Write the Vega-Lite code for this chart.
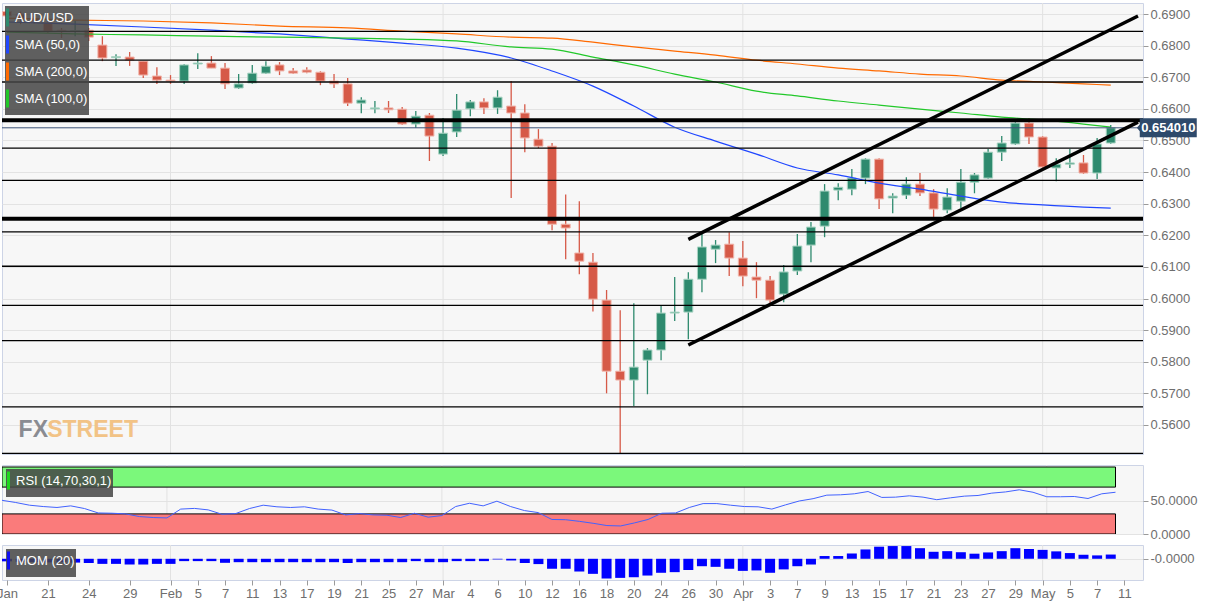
{
  "$schema": "https://vega.github.io/schema/vega-lite/v6.json",
  "padding": {"left": -4, "top": 2, "right": 0, "bottom": 0},
  "background": "white",
  "spacing": 11,
  "bounds": "flush",
  "config": {
    "font": "Liberation Sans",
    "view": {"fill": "#f7f7f7", "stroke": "#cdd4e6"},
    "axis": {"labelFont": "Liberation Sans", "labelColor": "#6e6e6e", "labelFontSize": 13, "tickColor": "#9a9a9a", "gridColor": "#e3e3e3", "domain": false, "labelOverlap": false},
    "legend": {"orient": "top-left", "offset": 4, "direction": "vertical", "fillColor": "rgba(70,70,70,0.86)", "padding": 1, "labelColor": "#ffffff", "labelFont": "Liberation Sans", "labelFontSize": 13, "symbolType": "M-1,-1L-1,1", "symbolSize": 324, "symbolStrokeWidth": 3, "symbolOpacity": 1, "rowPadding": -4, "labelOffset": -12}
  },
  "resolve": {"scale": {"color": "independent", "x": "independent", "y": "independent"}, "legend": {"color": "independent"}},
  "datasets": {
    "candles": [
      {"i":0,"d":"2020-01-16","o":0.6908,"h":0.6915,"l":0.6888,"c":0.6894,"rsi":50.3,"mom":-0.012},
      {"i":1,"d":"2020-01-17","o":0.6900,"h":0.6908,"l":0.6868,"c":0.6884,"rsi":47,"mom":-0.014},
      {"i":2,"d":"2020-01-20","o":0.6887,"h":0.6893,"l":0.6870,"c":0.6878,"rsi":43,"mom":-0.015},
      {"i":3,"d":"2020-01-21","o":0.6872,"h":0.6880,"l":0.6840,"c":0.6846,"rsi":41,"mom":-0.017},
      {"i":4,"d":"2020-01-22","o":0.6849,"h":0.6856,"l":0.6824,"c":0.6846,"rsi":39.6,"mom":-0.016},
      {"i":5,"d":"2020-01-23","o":0.6845,"h":0.6878,"l":0.6830,"c":0.6848,"rsi":42,"mom":-0.018},
      {"i":6,"d":"2020-01-24","o":0.6849,"h":0.6856,"l":0.6815,"c":0.6827,"rsi":38,"mom":-0.020},
      {"i":7,"d":"2020-01-27","o":0.6802,"h":0.6830,"l":0.6751,"c":0.6761,"rsi":31.4,"mom":-0.024},
      {"i":8,"d":"2020-01-28","o":0.6762,"h":0.6773,"l":0.6736,"c":0.6765,"rsi":31,"mom":-0.024},
      {"i":9,"d":"2020-01-29","o":0.6764,"h":0.6780,"l":0.6736,"c":0.6754,"rsi":30,"mom":-0.027},
      {"i":10,"d":"2020-01-30","o":0.6751,"h":0.6751,"l":0.6698,"c":0.6707,"rsi":26,"mom":-0.027},
      {"i":11,"d":"2020-01-31","o":0.6704,"h":0.6732,"l":0.6679,"c":0.6691,"rsi":24.6,"mom":-0.024},
      {"i":12,"d":"2020-02-03","o":0.6691,"h":0.6707,"l":0.6679,"c":0.6688,"rsi":24,"mom":-0.024},
      {"i":13,"d":"2020-02-04","o":0.6688,"h":0.6742,"l":0.6679,"c":0.6739,"rsi":37.2,"mom":-0.011},
      {"i":14,"d":"2020-02-05","o":0.6742,"h":0.6776,"l":0.6726,"c":0.6745,"rsi":38.2,"mom":-0.011},
      {"i":15,"d":"2020-02-06","o":0.6745,"h":0.6767,"l":0.6729,"c":0.6729,"rsi":36,"mom":-0.011},
      {"i":16,"d":"2020-02-07","o":0.6729,"h":0.6745,"l":0.6663,"c":0.6679,"rsi":29.5,"mom":-0.019},
      {"i":17,"d":"2020-02-10","o":0.6666,"h":0.6710,"l":0.6663,"c":0.6679,"rsi":30.5,"mom":-0.016},
      {"i":18,"d":"2020-02-11","o":0.6682,"h":0.6739,"l":0.6679,"c":0.6713,"rsi":38,"mom":-0.016},
      {"i":19,"d":"2020-02-12","o":0.6713,"h":0.6751,"l":0.6710,"c":0.6735,"rsi":43,"mom":-0.016},
      {"i":20,"d":"2020-02-13","o":0.6739,"h":0.6748,"l":0.6707,"c":0.6720,"rsi":40.6,"mom":-0.016},
      {"i":21,"d":"2020-02-14","o":0.6720,"h":0.6729,"l":0.6710,"c":0.6713,"rsi":39.6,"mom":-0.016},
      {"i":22,"d":"2020-02-17","o":0.6723,"h":0.6732,"l":0.6713,"c":0.6716,"rsi":40.6,"mom":-0.016},
      {"i":23,"d":"2020-02-18","o":0.6716,"h":0.6719,"l":0.6675,"c":0.6688,"rsi":37.2,"mom":-0.016},
      {"i":24,"d":"2020-02-19","o":0.6688,"h":0.6710,"l":0.6666,"c":0.6679,"rsi":35.7,"mom":-0.016},
      {"i":25,"d":"2020-02-20","o":0.6679,"h":0.6698,"l":0.6609,"c":0.6618,"rsi":28.5,"mom":-0.020},
      {"i":26,"d":"2020-02-21","o":0.6618,"h":0.6637,"l":0.6586,"c":0.6628,"rsi":30.5,"mom":-0.016},
      {"i":27,"d":"2020-02-24","o":0.6600,"h":0.6625,"l":0.6586,"c":0.6603,"rsi":28.5,"mom":-0.016},
      {"i":28,"d":"2020-02-25","o":0.6603,"h":0.6625,"l":0.6587,"c":0.6597,"rsi":28,"mom":-0.016},
      {"i":29,"d":"2020-02-26","o":0.6599,"h":0.6606,"l":0.6549,"c":0.6552,"rsi":24.6,"mom":-0.016},
      {"i":30,"d":"2020-02-27","o":0.6552,"h":0.6593,"l":0.6540,"c":0.6577,"rsi":31,"mom":-0.011},
      {"i":31,"d":"2020-02-28","o":0.6580,"h":0.6587,"l":0.6435,"c":0.6514,"rsi":25.1,"mom":-0.016},
      {"i":32,"d":"2020-03-02","o":0.6457,"h":0.6571,"l":0.6451,"c":0.6523,"rsi":27.5,"mom":-0.016},
      {"i":33,"d":"2020-03-03","o":0.6527,"h":0.6647,"l":0.6511,"c":0.6596,"rsi":41,"mom":-0.011},
      {"i":34,"d":"2020-03-04","o":0.6600,"h":0.6628,"l":0.6577,"c":0.6622,"rsi":45.9,"mom":-0.011},
      {"i":35,"d":"2020-03-05","o":0.6622,"h":0.6634,"l":0.6584,"c":0.6603,"rsi":42,"mom":-0.011},
      {"i":36,"d":"2020-03-06","o":0.6603,"h":0.6659,"l":0.6584,"c":0.6637,"rsi":49,"mom":-0.003},
      {"i":37,"d":"2020-03-09","o":0.6609,"h":0.6688,"l":0.6318,"c":0.6587,"rsi":41,"mom":-0.008},
      {"i":38,"d":"2020-03-10","o":0.6587,"h":0.6615,"l":0.6463,"c":0.6508,"rsi":35,"mom":-0.020},
      {"i":39,"d":"2020-03-11","o":0.6504,"h":0.6536,"l":0.6476,"c":0.6482,"rsi":32,"mom":-0.025},
      {"i":40,"d":"2020-03-12","o":0.6482,"h":0.6492,"l":0.6216,"c":0.6235,"rsi":21.7,"mom":-0.047},
      {"i":41,"d":"2020-03-13","o":0.6235,"h":0.6329,"l":0.6124,"c":0.6223,"rsi":21.3,"mom":-0.047},
      {"i":42,"d":"2020-03-16","o":0.6144,"h":0.6308,"l":0.6077,"c":0.6118,"rsi":18.9,"mom":-0.060},
      {"i":43,"d":"2020-03-17","o":0.6115,"h":0.6144,"l":0.5959,"c":0.5998,"rsi":16,"mom":-0.071},
      {"i":44,"d":"2020-03-18","o":0.5995,"h":0.6027,"l":0.5700,"c":0.5770,"rsi":12.6,"mom":-0.093},
      {"i":45,"d":"2020-03-19","o":0.5770,"h":0.5963,"l":0.5510,"c":0.5742,"rsi":12,"mom":-0.090},
      {"i":46,"d":"2020-03-20","o":0.5742,"h":0.5985,"l":0.5660,"c":0.5783,"rsi":16.5,"mom":-0.087},
      {"i":47,"d":"2020-03-23","o":0.5805,"h":0.5843,"l":0.5697,"c":0.5837,"rsi":21.7,"mom":-0.079},
      {"i":48,"d":"2020-03-24","o":0.5837,"h":0.5976,"l":0.5805,"c":0.5954,"rsi":31,"mom":-0.066},
      {"i":49,"d":"2020-03-25","o":0.5954,"h":0.6068,"l":0.5929,"c":0.5957,"rsi":31.4,"mom":-0.063},
      {"i":50,"d":"2020-03-26","o":0.5957,"h":0.6083,"l":0.5871,"c":0.6061,"rsi":39.6,"mom":-0.053},
      {"i":51,"d":"2020-03-27","o":0.6061,"h":0.6204,"l":0.6020,"c":0.6163,"rsi":45.4,"mom":-0.035},
      {"i":52,"d":"2020-03-30","o":0.6156,"h":0.6185,"l":0.6112,"c":0.6169,"rsi":45.4,"mom":-0.038},
      {"i":53,"d":"2020-03-31","o":0.6172,"h":0.6210,"l":0.6071,"c":0.6128,"rsi":43,"mom":-0.047},
      {"i":54,"d":"2020-04-01","o":0.6128,"h":0.6182,"l":0.6039,"c":0.6071,"rsi":41,"mom":-0.057},
      {"i":55,"d":"2020-04-02","o":0.6068,"h":0.6115,"l":0.6001,"c":0.6058,"rsi":40.6,"mom":-0.055},
      {"i":56,"d":"2020-04-03","o":0.6058,"h":0.6071,"l":0.5985,"c":0.5995,"rsi":37.2,"mom":-0.066},
      {"i":57,"d":"2020-04-06","o":0.6014,"h":0.6106,"l":0.5988,"c":0.6084,"rsi":43.5,"mom":-0.050},
      {"i":58,"d":"2020-04-07","o":0.6087,"h":0.6204,"l":0.6074,"c":0.6166,"rsi":49.3,"mom":-0.035},
      {"i":59,"d":"2020-04-08","o":0.6169,"h":0.6242,"l":0.6115,"c":0.6226,"rsi":52.7,"mom":-0.027},
      {"i":60,"d":"2020-04-09","o":0.6229,"h":0.6362,"l":0.6194,"c":0.6340,"rsi":58,"mom":0.013},
      {"i":61,"d":"2020-04-10","o":0.6343,"h":0.6365,"l":0.6311,"c":0.6352,"rsi":58.5,"mom":0.013},
      {"i":62,"d":"2020-04-13","o":0.6346,"h":0.6410,"l":0.6327,"c":0.6381,"rsi":60,"mom":0.025},
      {"i":63,"d":"2020-04-14","o":0.6381,"h":0.6444,"l":0.6362,"c":0.6441,"rsi":63.4,"mom":0.044},
      {"i":64,"d":"2020-04-15","o":0.6441,"h":0.6444,"l":0.6283,"c":0.6315,"rsi":54.6,"mom":0.057},
      {"i":65,"d":"2020-04-16","o":0.6318,"h":0.6333,"l":0.6270,"c":0.6324,"rsi":55,"mom":0.060},
      {"i":66,"d":"2020-04-17","o":0.6327,"h":0.6384,"l":0.6315,"c":0.6362,"rsi":57,"mom":0.060},
      {"i":67,"d":"2020-04-20","o":0.6362,"h":0.6397,"l":0.6324,"c":0.6334,"rsi":55,"mom":0.050},
      {"i":68,"d":"2020-04-21","o":0.6334,"h":0.6346,"l":0.6258,"c":0.6283,"rsi":51.2,"mom":0.033},
      {"i":69,"d":"2020-04-22","o":0.6280,"h":0.6349,"l":0.6270,"c":0.6321,"rsi":54,"mom":0.036},
      {"i":70,"d":"2020-04-23","o":0.6308,"h":0.6410,"l":0.6286,"c":0.6368,"rsi":56.5,"mom":0.031},
      {"i":71,"d":"2020-04-24","o":0.6368,"h":0.6397,"l":0.6333,"c":0.6391,"rsi":57.5,"mom":0.024},
      {"i":72,"d":"2020-04-27","o":0.6381,"h":0.6473,"l":0.6378,"c":0.6463,"rsi":61,"mom":0.030},
      {"i":73,"d":"2020-04-28","o":0.6463,"h":0.6514,"l":0.6435,"c":0.6492,"rsi":62.8,"mom":0.036},
      {"i":74,"d":"2020-04-29","o":0.6489,"h":0.6568,"l":0.6486,"c":0.6555,"rsi":66,"mom":0.050},
      {"i":75,"d":"2020-04-30","o":0.6555,"h":0.6571,"l":0.6489,"c":0.6511,"rsi":62.3,"mom":0.046},
      {"i":76,"d":"2020-05-01","o":0.6511,"h":0.6514,"l":0.6413,"c":0.6416,"rsi":55.6,"mom":0.042},
      {"i":77,"d":"2020-05-04","o":0.6413,"h":0.6444,"l":0.6371,"c":0.6425,"rsi":55.6,"mom":0.035},
      {"i":78,"d":"2020-05-05","o":0.6425,"h":0.6473,"l":0.6413,"c":0.6429,"rsi":56,"mom":0.027},
      {"i":79,"d":"2020-05-06","o":0.6429,"h":0.6454,"l":0.6394,"c":0.6397,"rsi":53,"mom":0.019},
      {"i":80,"d":"2020-05-07","o":0.6397,"h":0.6508,"l":0.6378,"c":0.6489,"rsi":60,"mom":0.016},
      {"i":81,"d":"2020-05-08","o":0.6492,"h":0.6549,"l":0.6489,"c":0.65401,"rsi":62.3,"mom":0.020}
    ],
    "sma": [
      {"name":"SMA (50,0)","i":0,"v":0.6875},{"name":"SMA (50,0)","i":5,"v":0.6868},{"name":"SMA (50,0)","i":10,"v":0.6859},{"name":"SMA (50,0)","i":15,"v":0.6849},{"name":"SMA (50,0)","i":20,"v":0.6837},{"name":"SMA (50,0)","i":25,"v":0.6821},{"name":"SMA (50,0)","i":29,"v":0.6808},{"name":"SMA (50,0)","i":33,"v":0.6792},{"name":"SMA (50,0)","i":37,"v":0.6761},{"name":"SMA (50,0)","i":40,"v":0.6720},{"name":"SMA (50,0)","i":43,"v":0.6672},{"name":"SMA (50,0)","i":46,"v":0.6609},{"name":"SMA (50,0)","i":49,"v":0.6542},{"name":"SMA (50,0)","i":52,"v":0.6498},{"name":"SMA (50,0)","i":55,"v":0.6457},{"name":"SMA (50,0)","i":58,"v":0.6413},{"name":"SMA (50,0)","i":61,"v":0.6391},{"name":"SMA (50,0)","i":64,"v":0.6365},{"name":"SMA (50,0)","i":67,"v":0.6346},{"name":"SMA (50,0)","i":70,"v":0.6324},{"name":"SMA (50,0)","i":73,"v":0.6305},{"name":"SMA (50,0)","i":76,"v":0.6296},{"name":"SMA (50,0)","i":79,"v":0.6289},{"name":"SMA (50,0)","i":81,"v":0.6286},
      {"name":"SMA (200,0)","i":0,"v":0.6887},{"name":"SMA (200,0)","i":5,"v":0.6881},{"name":"SMA (200,0)","i":10,"v":0.6878},{"name":"SMA (200,0)","i":15,"v":0.6872},{"name":"SMA (200,0)","i":20,"v":0.6862},{"name":"SMA (200,0)","i":25,"v":0.6856},{"name":"SMA (200,0)","i":29,"v":0.6846},{"name":"SMA (200,0)","i":33,"v":0.6837},{"name":"SMA (200,0)","i":37,"v":0.6827},{"name":"SMA (200,0)","i":40,"v":0.6824},{"name":"SMA (200,0)","i":43,"v":0.6811},{"name":"SMA (200,0)","i":46,"v":0.6796},{"name":"SMA (200,0)","i":49,"v":0.6783},{"name":"SMA (200,0)","i":52,"v":0.6770},{"name":"SMA (200,0)","i":55,"v":0.6754},{"name":"SMA (200,0)","i":58,"v":0.6742},{"name":"SMA (200,0)","i":61,"v":0.6729},{"name":"SMA (200,0)","i":64,"v":0.6720},{"name":"SMA (200,0)","i":67,"v":0.6710},{"name":"SMA (200,0)","i":70,"v":0.6704},{"name":"SMA (200,0)","i":73,"v":0.6691},{"name":"SMA (200,0)","i":76,"v":0.6685},{"name":"SMA (200,0)","i":79,"v":0.6679},{"name":"SMA (200,0)","i":81,"v":0.6675},
      {"name":"SMA (100,0)","i":0,"v":0.6843},{"name":"SMA (100,0)","i":5,"v":0.6837},{"name":"SMA (100,0)","i":10,"v":0.6834},{"name":"SMA (100,0)","i":15,"v":0.6830},{"name":"SMA (100,0)","i":20,"v":0.6827},{"name":"SMA (100,0)","i":25,"v":0.6824},{"name":"SMA (100,0)","i":29,"v":0.6821},{"name":"SMA (100,0)","i":33,"v":0.6815},{"name":"SMA (100,0)","i":37,"v":0.6796},{"name":"SMA (100,0)","i":40,"v":0.6789},{"name":"SMA (100,0)","i":43,"v":0.6764},{"name":"SMA (100,0)","i":46,"v":0.6739},{"name":"SMA (100,0)","i":49,"v":0.6710},{"name":"SMA (100,0)","i":52,"v":0.6685},{"name":"SMA (100,0)","i":55,"v":0.6656},{"name":"SMA (100,0)","i":58,"v":0.6641},{"name":"SMA (100,0)","i":61,"v":0.6625},{"name":"SMA (100,0)","i":64,"v":0.6612},{"name":"SMA (100,0)","i":67,"v":0.6599},{"name":"SMA (100,0)","i":70,"v":0.6587},{"name":"SMA (100,0)","i":73,"v":0.6574},{"name":"SMA (100,0)","i":76,"v":0.6565},{"name":"SMA (100,0)","i":79,"v":0.6552},{"name":"SMA (100,0)","i":81,"v":0.6542}
    ],
    "levels": [
      {"p":0.6845,"kind":"minor"},{"p":0.6754,"kind":"minor"},{"p":0.6685,"kind":"minor"},{"p":0.6564,"kind":"major"},{"p":0.6476,"kind":"minor"},{"p":0.6374,"kind":"minor"},{"p":0.6252,"kind":"major"},{"p":0.6211,"kind":"minor"},{"p":0.6102,"kind":"minor"},{"p":0.5978,"kind":"minor"},{"p":0.5867,"kind":"minor"},{"p":0.5657,"kind":"minor"},{"p":0.5510,"kind":"minor"}
    ],
    "channel": [
      {"line":"upper","i":50,"p":0.6187},{"line":"upper","i":83,"p":0.6894},
      {"line":"lower","i":50,"p":0.5853},{"line":"lower","i":83,"p":0.6558}
    ],
    "months": [{"i":12,"m":"Feb"},{"i":32,"m":"Mar"},{"i":54,"m":"Apr"},{"i":76,"m":"May"}],
    "zones": [{"zone":"overbought","lo":70,"hi":100},{"zone":"oversold","lo":0,"hi":30}]
  },
  "vconcat": [
    {
      "width": 1141,
      "height": 451,
      "layer": [
        {
          "data": {"name": "months"},
          "mark": {"type": "rule", "color": "#e2e2e2", "strokeWidth": 1, "clip": true},
          "encoding": {"x": {"field": "i", "type": "quantitative", "scale": {"domain": [0, 83], "nice": false, "zero": false}, "axis": null}}
        },
        {
          "data": {"name": "candles"},
          "mark": {"type": "rule", "strokeWidth": 1.3, "clip": true},
          "encoding": {
            "x": {"field": "i", "type": "quantitative", "scale": {"domain": [0, 83], "nice": false, "zero": false}, "axis": null},
            "y": {"field": "l", "type": "quantitative", "title": null, "scale": {"domain": [0.5508, 0.6935], "nice": false, "zero": false},
                  "axis": {"orient": "right", "values": [0.56,0.57,0.58,0.59,0.6,0.61,0.62,0.63,0.64,0.65,0.66,0.67,0.68,0.69], "tickCount": 60, "format": ".4f", "grid": true, "tickSize": 5, "labelPadding": 2, "labelOverlap": false, "title": null}},
            "y2": {"field": "h"},
            "color": {"condition": {"test": "datum.c >= datum.o", "value": "#2e8a6e"}, "value": "#d65a48"}
          }
        },
        {
          "data": {"name": "candles"},
          "mark": {"type": "bar", "width": 9, "strokeWidth": 1, "clip": true},
          "encoding": {
            "x": {"field": "i", "type": "quantitative", "scale": {"domain": [0, 83], "nice": false, "zero": false}, "axis": null},
            "y": {"field": "o", "type": "quantitative", "title": null, "scale": {"domain": [0.5508, 0.6935], "nice": false, "zero": false}},
            "y2": {"field": "c"},
            "fill": {"condition": {"test": "datum.c >= datum.o", "value": "#2e8a6e"}, "value": "#d65a48"},
            "stroke": {"condition": {"test": "datum.c >= datum.o", "value": "#a9d4c3"}, "value": "#f1b7ad"}
          }
        },
        {
          "data": {"name": "sma"},
          "mark": {"type": "line", "strokeWidth": 1.2, "interpolate": "monotone", "clip": true},
          "encoding": {
            "x": {"field": "i", "type": "quantitative", "scale": {"domain": [0, 83], "nice": false, "zero": false}, "axis": null},
            "y": {"field": "v", "type": "quantitative", "title": null, "scale": {"domain": [0.5508, 0.6935], "nice": false, "zero": false}},
            "color": {"field": "name", "type": "nominal",
                      "scale": {"domain": ["AUD/USD", "SMA (50,0)", "SMA (200,0)", "SMA (100,0)"], "range": ["#2e8a6e", "#2047ff", "#ff6a00", "#22c82a"]},
                      "legend": {"title": null, "offset": 3}}
          }
        },
        {
          "data": {"name": "levels"},
          "mark": {"type": "rule", "color": "#000000", "clip": true},
          "encoding": {
            "y": {"field": "p", "type": "quantitative", "title": null, "scale": {"domain": [0.5508, 0.6935], "nice": false, "zero": false}},
            "strokeWidth": {"field": "kind", "type": "nominal", "scale": {"domain": ["major", "minor"], "range": [4, 1.3]}, "legend": null}
          }
        },
        {
          "data": {"name": "candles"},
          "transform": [{"filter": "datum.i == 81"}],
          "mark": {"type": "rule", "color": "#3a5075", "strokeWidth": 1, "clip": true},
          "encoding": {
            "y": {"field": "c", "type": "quantitative", "title": null, "scale": {"domain": [0.5508, 0.6935], "nice": false, "zero": false}}
          }
        },
        {
          "data": {"name": "channel"},
          "mark": {"type": "line", "color": "#000000", "strokeWidth": 3.5, "clip": true},
          "encoding": {
            "x": {"field": "i", "type": "quantitative", "scale": {"domain": [0, 83], "nice": false, "zero": false}, "axis": null},
            "y": {"field": "p", "type": "quantitative", "title": null, "scale": {"domain": [0.5508, 0.6935], "nice": false, "zero": false}},
            "detail": {"field": "line"}
          }
        },
        {
          "data": {"name": "candles"},
          "transform": [{"filter": "datum.i == 81"}],
          "mark": {"type": "point", "shape": "M-1.1,0L-1,-0.12V-0.333H1V0.333H-1V0.12Z", "size": 3249, "filled": true, "opacity": 1, "color": "#2e4a6b"},
          "encoding": {
            "x": {"datum": 85.22, "type": "quantitative", "scale": {"domain": [0, 83], "nice": false, "zero": false}, "axis": null},
            "y": {"field": "c", "type": "quantitative", "title": null, "scale": {"domain": [0.5508, 0.6935], "nice": false, "zero": false}}
          }
        },
        {
          "data": {"name": "candles"},
          "transform": [{"filter": "datum.i == 81"}],
          "mark": {"type": "text", "color": "#ffffff", "fontWeight": "bold", "fontSize": 13, "align": "center", "baseline": "middle", "font": "Liberation Sans"},
          "encoding": {
            "x": {"datum": 85.22, "type": "quantitative", "scale": {"domain": [0, 83], "nice": false, "zero": false}, "axis": null},
            "y": {"field": "c", "type": "quantitative", "title": null, "scale": {"domain": [0.5508, 0.6935], "nice": false, "zero": false}},
            "text": {"field": "c", "type": "quantitative", "format": ".6f"}
          }
        },
        {
          "data": {"values": [{"part": "FX"}]},
          "mark": {"type": "text", "color": "#8a8c92", "fontWeight": "bold", "fontSize": 23, "align": "left", "baseline": "alphabetic", "font": "Liberation Sans"},
          "encoding": {
            "x": {"datum": 0.85, "type": "quantitative", "scale": {"domain": [0, 83], "nice": false, "zero": false}, "axis": null},
            "y": {"datum": 0.5563, "type": "quantitative", "title": null, "scale": {"domain": [0.5508, 0.6935], "nice": false, "zero": false}},
            "text": {"field": "part"}
          }
        },
        {
          "data": {"values": [{"part": "STREET"}]},
          "mark": {"type": "text", "color": "#f2c386", "fontWeight": "bold", "fontSize": 23, "align": "left", "baseline": "alphabetic", "font": "Liberation Sans"},
          "encoding": {
            "x": {"datum": 2.95, "type": "quantitative", "scale": {"domain": [0, 83], "nice": false, "zero": false}, "axis": null},
            "y": {"datum": 0.5563, "type": "quantitative", "title": null, "scale": {"domain": [0.5508, 0.6935], "nice": false, "zero": false}},
            "text": {"field": "part"}
          }
        }
      ]
    },
    {
      "width": 1141,
      "height": 69,
      "layer": [
        {
          "data": {"name": "months"},
          "mark": {"type": "rule", "color": "#e2e2e2", "strokeWidth": 1, "clip": true},
          "encoding": {"x": {"field": "i", "type": "quantitative", "scale": {"domain": [0, 83], "nice": false, "zero": false}, "axis": null}}
        },
        {
          "data": {"name": "zones"},
          "mark": {"type": "rect", "stroke": "#000000", "strokeWidth": 1, "clip": true},
          "encoding": {
            "x": {"datum": 0, "type": "quantitative", "scale": {"domain": [0, 83], "nice": false, "zero": false}, "axis": null},
            "x2": {"datum": 81},
            "y": {"field": "lo", "type": "quantitative", "title": null, "scale": {"domain": [0, 103], "nice": false, "zero": false},
                  "axis": {"orient": "right", "values": [0, 50], "tickCount": 10, "format": ".4f", "grid": true, "tickSize": 5, "labelPadding": 2, "title": null}},
            "y2": {"field": "hi"},
            "fill": {"field": "zone", "type": "nominal", "scale": {"domain": ["overbought", "oversold"], "range": ["#7bf87b", "#fa7b7b"]}, "legend": null}
          }
        },
        {
          "data": {"name": "candles"},
          "mark": {"type": "line", "color": "#4262ff", "strokeWidth": 1, "clip": true},
          "encoding": {
            "x": {"field": "i", "type": "quantitative", "scale": {"domain": [0, 83], "nice": false, "zero": false}, "axis": null},
            "y": {"field": "rsi", "type": "quantitative", "title": null, "scale": {"domain": [0, 103], "nice": false, "zero": false}}
          }
        },
        {
          "data": {"name": "candles"},
          "mark": {"type": "line", "opacity": 0, "clip": true},
          "encoding": {
            "x": {"field": "i", "type": "quantitative", "scale": {"domain": [0, 83], "nice": false, "zero": false}, "axis": null},
            "y": {"field": "rsi", "type": "quantitative", "title": null, "scale": {"domain": [0, 103], "nice": false, "zero": false}},
            "color": {"datum": "RSI (14,70,30,1)", "scale": {"range": ["#1ed81e"]}, "legend": {"title": null, "symbolOpacity": 1}}
          }
        }
      ]
    },
    {
      "width": 1141,
      "height": 35,
      "layer": [
        {
          "data": {"name": "months"},
          "mark": {"type": "rule", "color": "#e2e2e2", "strokeWidth": 1, "clip": true},
          "encoding": {"x": {"field": "i", "type": "quantitative", "scale": {"domain": [0, 83], "nice": false, "zero": false}}}
        },
        {
          "data": {"name": "candles"},
          "mark": {"type": "bar", "width": 10, "color": "#0000ff", "clip": true},
          "encoding": {
            "x": {"field": "i", "type": "quantitative", "scale": {"domain": [0, 83], "nice": false, "zero": false},
                  "axis": {"values": [0,3,6,9,12,14,16,18,20,22,24,26,28,30,32,34,36,38,40,42,44,46,48,50,52,54,56,58,60,62,64,66,68,70,72,74,76,78,80,82],
                           "tickCount": 200,
                           "labelExpr": "['Jan','','','21','','','24','','','29','','','Feb','','5','','7','','11','','13','','17','','19','','21','','25','','27','','Mar','','4','','6','','10','','12','','16','','18','','20','','24','','26','','30','','Apr','','3','','7','','9','','13','','15','','17','','21','','23','','27','','29','','May','','5','','7','','11'][datum.value]",
                           "labelFlush": true, "labelFlushOffset": -3, "labelOverlap": false, "grid": false, "tickSize": 5, "labelPadding": 2, "title": null}},
            "y": {"field": "mom", "type": "quantitative", "title": null, "scale": {"domain": [-0.1, 0.065], "nice": false, "zero": false},
                  "axis": {"orient": "right", "values": [0], "labelExpr": "'-0.0000'", "grid": true, "tickSize": 5, "labelPadding": 2, "title": null}},
            "y2": {"datum": 0}
          }
        },
        {
          "data": {"name": "candles"},
          "mark": {"type": "line", "opacity": 0, "clip": true},
          "encoding": {
            "x": {"field": "i", "type": "quantitative", "scale": {"domain": [0, 83], "nice": false, "zero": false}},
            "y": {"field": "mom", "type": "quantitative", "title": null, "scale": {"domain": [-0.1, 0.065], "nice": false, "zero": false}},
            "color": {"datum": "MOM (20)", "scale": {"range": ["#1010f0"]}, "legend": {"title": null, "symbolOpacity": 1}}
          }
        }
      ]
    }
  ]
}
